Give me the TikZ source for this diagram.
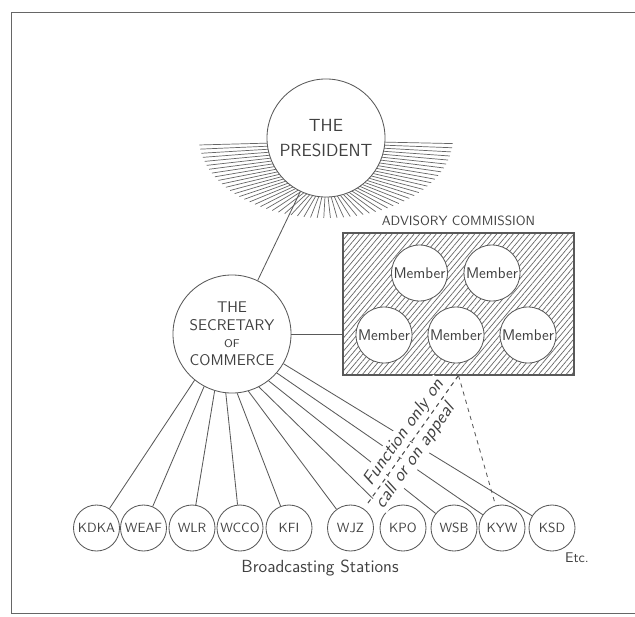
\documentclass[tikz,border=0pt]{standalone}
\usepackage{tikz}
\usetikzlibrary{calc, patterns.meta}

\begin{document}
\begin{tikzpicture}[x=0.025cm, y=-0.025cm, line width=0.6pt,
  every node/.style={text=black!75},
  bigcirc/.style={circle, draw=black!65, fill=white, inner sep=0pt, minimum size=2.95cm, align=center},
  member/.style={circle, draw=black!65, fill=white, inner sep=0pt, minimum size=1.4cm, font=\sffamily\fontsize{11}{12}\selectfont},
  station/.style={circle, draw=black!65, inner sep=0pt, minimum size=1.15cm, font=\sffamily\fontsize{9.5}{11}\selectfont},
  commbox/.style={draw=black!65, line width=0.9pt, minimum width=5.775cm, minimum height=3.55cm, pattern={Lines[angle=50, distance=3pt, line width=0.5pt]}, pattern color=black!60},
  ray/.style={draw=black!60, line width=0.5pt},
  note/.style={fill=white, inner sep=1pt, font=\sffamily\itshape\fontsize{13}{14}\selectfont}]
  \useasboundingbox (0,0) rectangle (635,616);
  % frame
  \draw[black!60] (635,12) -- (11,12) -- (11,613) -- (635,613);
  % the president with its rays
  \coordinate (pc) at (326,138);
  \foreach \a in {4,7,...,176}
    \draw[ray] ($(pc)+(\a:59)$) -- ($(pc)+(\a:127 and 80)$);
  \node[bigcirc, font=\sffamily\fontsize{12.5}{18}\selectfont] (pres) at (pc) {THE\\PRESIDENT};
  % the secretary
  \node[bigcirc, font=\sffamily\fontsize{11}{12.5}\selectfont] (sec) at (232,334)
    {THE\\SECRETARY\\{\fontsize{8}{9}\selectfont OF}\\COMMERCE};
  \draw[black!65] (pres) -- (sec);
  % advisory commission
  \node[commbox] (comm) at (458.5,304) {};
  \node[above=1pt, font=\sffamily\fontsize{9.5}{11}\selectfont] (advlabel) at (comm.north) {ADVISORY COMMISSION};
  \node[member] (m1) at (419.5,273) {Member};
  \node[member] (m2) at (492,273) {Member};
  \node[member] (m3) at (384,335) {Member};
  \node[member] (m4) at (456,335) {Member};
  \node[member] (m5) at (528,335) {Member};
  \draw[black!65] (sec.east) -- (sec.east -| comm.west);
  % broadcasting stations
  \foreach \nm/\x [count=\i] in {KDKA/96.5, WEAF/143.5, WLR/192, WCCO/240, KFI/289,
                                  WJZ/350.5, KPO/403, WSB/454, KYW/502, KSD/552} {
    \node[station] (\nm) at (\x,528) {\nm};
    \pgfmathtruncatemacro\ang{-140+11*\i}
    \draw[black!65] (sec.\ang) -- (\nm);
  }
  \node[font=\sffamily\fontsize{12.5}{14}\selectfont] (bclabel) at (320,568) {Broadcasting Stations};
  \node[font=\sffamily\fontsize{10}{12}\selectfont] (etc) at (577,558) {Etc.};
  % appeal only
  \coordinate (appeal) at (368,503);
  \draw[black!65, dashed] (comm.south) -- (KYW);
  \draw[black!65, dashed] (appeal) -- (comm.south)
    node[pos=0.5, sloped, above=1pt, note] {Function only on}
    node[pos=0.42, sloped, below=1pt, note] {call or on appeal};
  \draw[black!65, dashed] (appeal) -- (comm.south);
\end{tikzpicture}
\end{document}
